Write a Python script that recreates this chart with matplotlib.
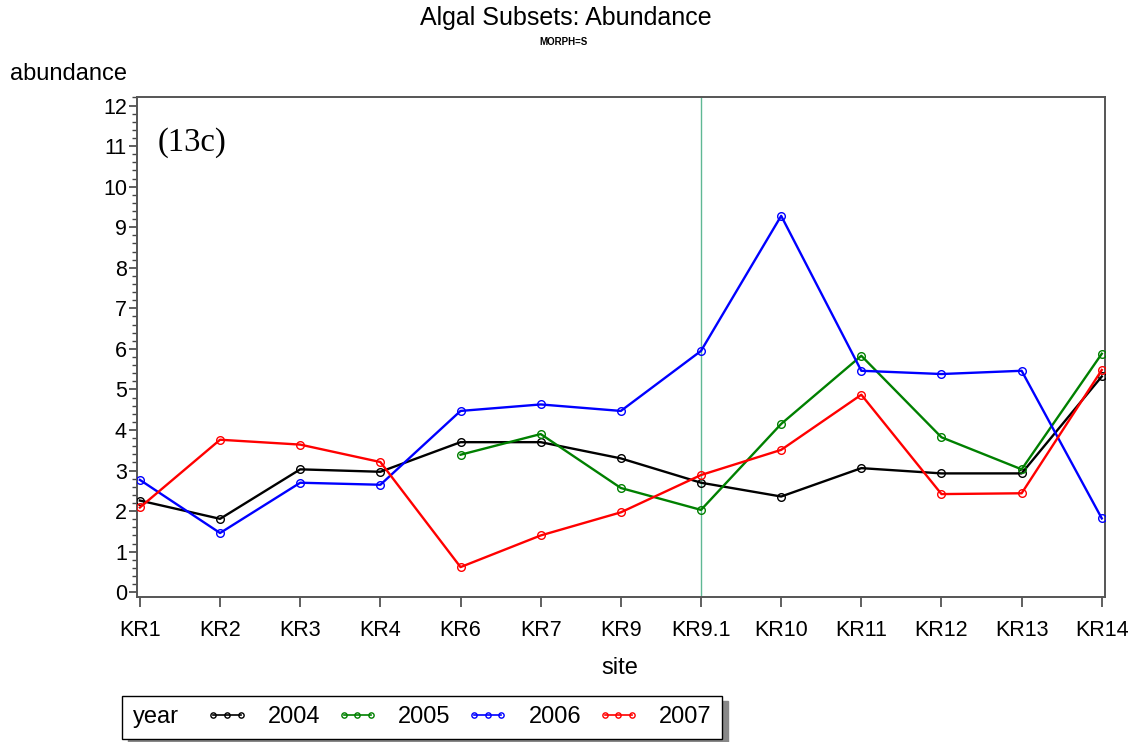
import matplotlib
matplotlib.use("Agg")
import matplotlib.pyplot as plt
from matplotlib.ticker import MultipleLocator
from matplotlib.lines import Line2D
from matplotlib.offsetbox import HPacker

sites = ["KR1", "KR2", "KR3", "KR4", "KR6", "KR7", "KR9", "KR9.1",
         "KR10", "KR11", "KR12", "KR13", "KR14"]
y2004 = [2.26, 1.81, 3.03, 2.97, 3.70, 3.70, 3.30, 2.70, 2.36, 3.06, 2.93, 2.93, 5.32]
y2005 = [None, None, None, None, 3.39, 3.90, 2.57, 2.03, 4.15, 5.83, 3.82, 3.03, 5.88]
y2006 = [2.77, 1.46, 2.70, 2.65, 4.47, 4.63, 4.47, 5.95, 9.28, 5.46, 5.38, 5.46, 1.82]
y2007 = [2.09, 3.76, 3.64, 3.21, 0.62, 1.40, 1.97, 2.89, 3.51, 4.87, 2.42, 2.44, 5.48]
years = ["2004", "2005", "2006", "2007"]
colors = ["black", "#008000", "#0000ff", "#ff0000"]
ref_site = "KR9.1"

plt.rcParams['font.family'] = ["Liberation Sans", "DejaVu Sans"]

fig = plt.figure(figsize=(11.33, 7.42), dpi=100)
ax = fig.add_axes([136.7/1133, 1-596.7/742, (1105-136.7)/1133, (596.7-97)/742])

xs = list(range(len(sites)))
series = [y2004, y2005, y2006, y2007]
handles = []
for vals, col, yr in zip(series, colors, years):
    px = [x for x, v in zip(xs, vals) if v is not None]
    py = [v for v in vals if v is not None]
    ax.plot(px, py, color=col, lw=1.7, marker='o', ms=5.5, mfc='none',
            mec=col, mew=1.0, zorder=3)
    handles.append(Line2D([], [], color=col, lw=1.2, marker='o', ms=3.8,
                          mfc='none', mec=col, mew=1.0))

ax.axvline(sites.index(ref_site), color="#5fb894", lw=1.0, zorder=2)

ax.set_xlim(-0.04, 12.04)
ax.set_ylim(-0.11, 12.21)
ax.set_xticks(xs)
ax.set_xticklabels(sites, fontsize=15.5)
ax.set_yticks(range(0, 13))
ax.set_yticklabels([str(i) for i in range(13)], fontsize=15.5)
ax.yaxis.set_minor_locator(MultipleLocator(0.2))
ax.tick_params(axis='x', direction='out', length=7, width=1.2, color='#444444', pad=10)
ax.tick_params(axis='y', which='major', direction='out', length=6, width=1.2, color='#444444', pad=1)
ax.tick_params(axis='y', which='minor', direction='out', length=3.5, width=1.0, color='#444444')
for s in ax.spines.values():
    s.set_color('#555555')
    s.set_linewidth(1.4)

ax.text(0.022, 0.94, "(13c)", transform=ax.transAxes, fontsize=23.5,
        family="Liberation Serif", va='top', ha='left')

fig.text(566/1133, 1-18/742, "Algal Subsets: Abundance", ha='center', va='center', fontsize=18)
fig.text(564/1133, 1-42/742, "MORPH=S", ha='center', va='center', fontsize=7, fontweight='bold')
fig.text(10/1133, 1-74/742, "abundance", ha='left', va='center', fontsize=17)
fig.text(620/1133, 1-668/742, "site", ha='center', va='center', fontsize=17)

leg = fig.legend(handles, years, ncol=4, title="year", loc='lower left',
                 bbox_to_anchor=(122/1133, 3/742), frameon=True, fancybox=False,
                 shadow={'color': '#888888', 'alpha': 1.0, 'ox': 4, 'oy': -4},
                 fontsize=17, title_fontsize=17,
                 handlelength=1.75, handletextpad=0.85, columnspacing=0.7,
                 numpoints=3, borderpad=0.45, borderaxespad=0)
leg.get_frame().set_edgecolor('black')
leg.get_frame().set_linewidth(1.0)
fs = leg._fontsize
newbox = HPacker(pad=leg.borderpad*fs, sep=20, align='center',
                 children=[leg._legend_title_box, leg._legend_handle_box])
newbox.set_figure(fig)
newbox.axes = leg.axes
newbox.set_offset(leg._findoffset)
leg._legend_box = newbox

fig.savefig("out.png", dpi=100)
